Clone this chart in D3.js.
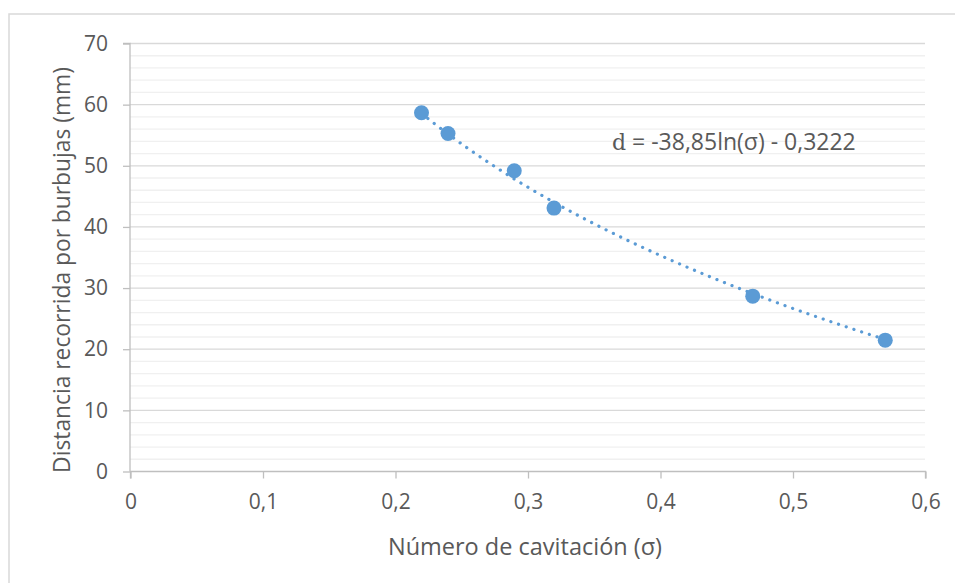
<!DOCTYPE html>
<html><head><meta charset="utf-8">
<script src="https://cdn.jsdelivr.net/npm/d3@7"></script>
<style>body{margin:0;background:#fff}svg{display:block}text{font-family:"Open Sans",sans-serif;fill:#595959}</style>
</head><body>
<script>
const sigma = [0.22, 0.24, 0.29, 0.32, 0.47, 0.57];
const distance = [58.6, 55.2, 49.1, 43.0, 28.6, 21.4];
const xTicks = [0, 0.1, 0.2, 0.3, 0.4, 0.5, 0.6];
const yTicks = [0, 10, 20, 30, 40, 50, 60, 70];
const trendCoef = [-38.85, -0.3222]; // d = a ln(σ) + b
const trendRange = [0.22, 0.57];
const equationVar = "d";
const equationRest = " = -38,85ln(σ) - 0,3222";
const xTitle = "Número de cavitación (σ)";
const yTitle = "Distancia recorrida por burbujas (mm)";

const W = 955, H = 583;
const svg = d3.select("body").append("svg").attr("width", W).attr("height", H);
svg.append("rect").attr("x", 9).attr("y", 14).attr("width", 960).attr("height", 600)
  .attr("fill", "none").attr("stroke", "#d9d9d9").attr("stroke-width", 1.5);

const x = d3.scaleLinear().domain([0, 0.6]).range([130, 925]);
const y = d3.scaleLinear().domain([0, 70]).range([471, 43]);
const fmt = v => d3.format("")(v).replace(".", ",");

// minor gridlines
const minor = d3.range(2, 70, 2).filter(v => v % 10 !== 0);
svg.append("g").selectAll("line").data(minor).join("line")
  .attr("x1", x(0)).attr("x2", x(0.6)).attr("y1", d => y(d) + 0.5).attr("y2", d => y(d) + 0.5)
  .attr("stroke", "#f0f0f0").attr("stroke-width", 1.3);
// major gridlines
svg.append("g").selectAll("line").data(yTicks.filter(v => v > 0)).join("line")
  .attr("x1", x(0)).attr("x2", x(0.6)).attr("y1", d => y(d) + 0.5).attr("y2", d => y(d) + 0.5)
  .attr("stroke", "#d9d9d9").attr("stroke-width", 1.3);

// axes
const yAxis = svg.append("g").attr("transform", `translate(${x(0)},0.5)`)
  .call(d3.axisLeft(y).tickValues(yTicks).tickSize(7).tickPadding(15).tickFormat(fmt));
const xAxis = svg.append("g").attr("transform", `translate(0.5,${y(0) + 0.5})`)
  .call(d3.axisBottom(x).tickValues(xTicks).tickSize(7).tickPadding(16).tickFormat(fmt));
[yAxis, xAxis].forEach(g => {
  g.select(".domain").attr("stroke", "#bfbfbf").attr("stroke-width", 1.3);
  g.selectAll(".tick line").attr("stroke", "#bfbfbf").attr("stroke-width", 1.3);
  g.selectAll("text").attr("font-size", 21).attr("fill", "#595959").attr("font-family", '"Open Sans",sans-serif');
});
xAxis.select(".domain").attr("d", `M${x(0)},7V0H${x(0.6)}V7`);
yAxis.select(".domain").attr("d", `M-7,${y(70)}H0V${y(0)}`);

// trendline
const tx = d3.range(trendRange[0], trendRange[1] + 1e-9, 0.0025);
const line = d3.line().x(d => x(d)).y(d => y(trendCoef[0] * Math.log(d) + trendCoef[1]));
svg.append("path").datum(tx).attr("d", line).attr("fill", "none")
  .attr("stroke", "#5b9bd5").attr("stroke-width", 3.2).attr("stroke-linecap", "round")
  .attr("stroke-dasharray", "0.1 8");

// points
svg.append("g").selectAll("circle").data(sigma).join("circle")
  .attr("cx", d => x(d)).attr("cy", (d, i) => y(distance[i])).attr("r", 7.5)
  .attr("fill", "#5b9bd5");

// equation
const eq = svg.append("text").attr("x", 612).attr("y", 150).attr("font-size", 23);
eq.append("tspan").attr("font-family", '"DejaVu Serif","Liberation Serif",serif').attr("font-size", 22).text(equationVar);
eq.append("tspan").text(equationRest);

// titles
svg.append("text").attr("x", 525).attr("y", 555).attr("text-anchor", "middle")
  .attr("font-size", 23.5).text(xTitle);
svg.append("text").attr("transform", "translate(70,270) rotate(-90)").attr("text-anchor", "middle")
  .attr("font-size", 22.8).text(yTitle);
</script>
</body></html>
